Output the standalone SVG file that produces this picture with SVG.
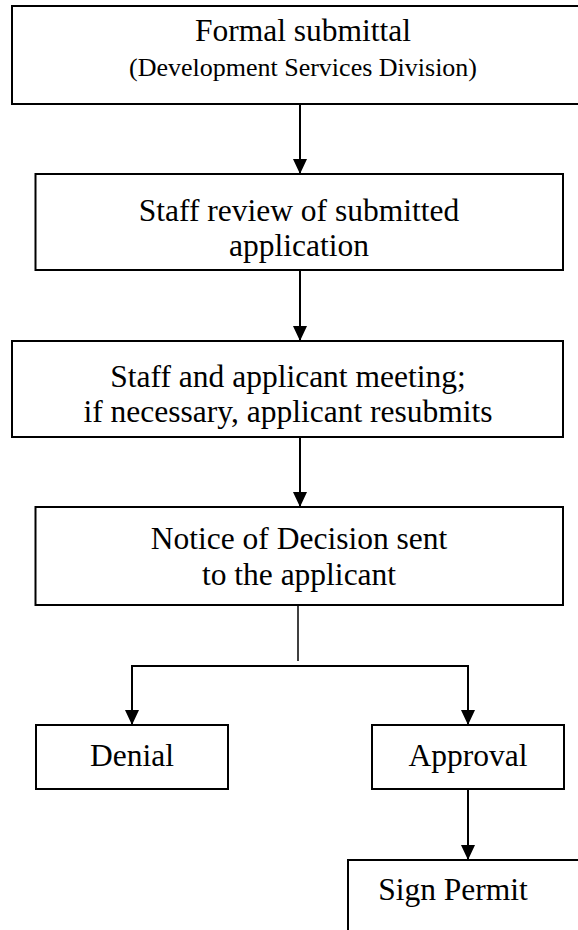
<svg xmlns="http://www.w3.org/2000/svg" width="578" height="930" viewBox="0 0 578 930">
<style>
.box{fill:#fff;stroke:#000;stroke-width:2}
.t{font-family:'Liberation Serif','Times New Roman',serif;font-size:31.5px;fill:#000;text-anchor:middle}
.s{font-size:26px}
.c{stroke:#000;stroke-width:2;fill:none}
</style>
<defs>
<marker id="ah" markerWidth="15" markerHeight="14" refX="15" refY="7" orient="auto" markerUnits="userSpaceOnUse" viewBox="0 0 15 14">
<path d="M0,0 L15,7 L0,14 Z" fill="#000"/>
</marker>
</defs>
<rect width="578" height="930" fill="#fff"/>
<g id="connectors">
<line class="c" x1="300" y1="104" x2="300" y2="174" marker-end="url(#ah)"/>
<line class="c" x1="300" y1="270" x2="300" y2="341" marker-end="url(#ah)"/>
<line class="c" x1="300" y1="437" x2="300" y2="507" marker-end="url(#ah)"/>
<line x1="298" y1="605" x2="298" y2="661" stroke="#000" stroke-width="1.5"/>
<line class="c" x1="131" y1="666" x2="469" y2="666"/>
<line class="c" x1="132" y1="665" x2="132" y2="725" marker-end="url(#ah)"/>
<line class="c" x1="468" y1="665" x2="468" y2="725" marker-end="url(#ah)"/>
<line class="c" x1="468" y1="789" x2="468" y2="860" marker-end="url(#ah)"/>
</g>
<g id="n1">
<rect class="box" x="12" y="6" width="590" height="98"/>
<text class="t" x="303" y="41">Formal submittal</text>
<text class="t s" x="303" y="76">(Development Services Division)</text>
</g>
<g id="n2">
<rect class="box" x="35.5" y="174" width="527.5" height="96"/>
<text class="t" x="299" y="221">Staff review of submitted</text>
<text class="t" x="299" y="256">application</text>
</g>
<g id="n3">
<rect class="box" x="12" y="341" width="551" height="96"/>
<text class="t" x="288" y="387">Staff and applicant meeting;</text>
<text class="t" x="288" y="422">if necessary, applicant resubmits</text>
</g>
<g id="n4">
<rect class="box" x="35.5" y="507" width="527.5" height="98"/>
<text class="t" x="299" y="549">Notice of Decision sent</text>
<text class="t" x="299" y="585">to the applicant</text>
</g>
<g id="n5">
<rect class="box" x="36" y="725" width="192" height="64"/>
<text class="t" x="132" y="766">Denial</text>
</g>
<g id="n6">
<rect class="box" x="372" y="725" width="192" height="64"/>
<text class="t" x="468" y="766">Approval</text>
</g>
<g id="n7">
<rect class="box" x="348" y="860" width="260" height="100"/>
<text class="t" x="453" y="900">Sign Permit</text>
</g>
</svg>
